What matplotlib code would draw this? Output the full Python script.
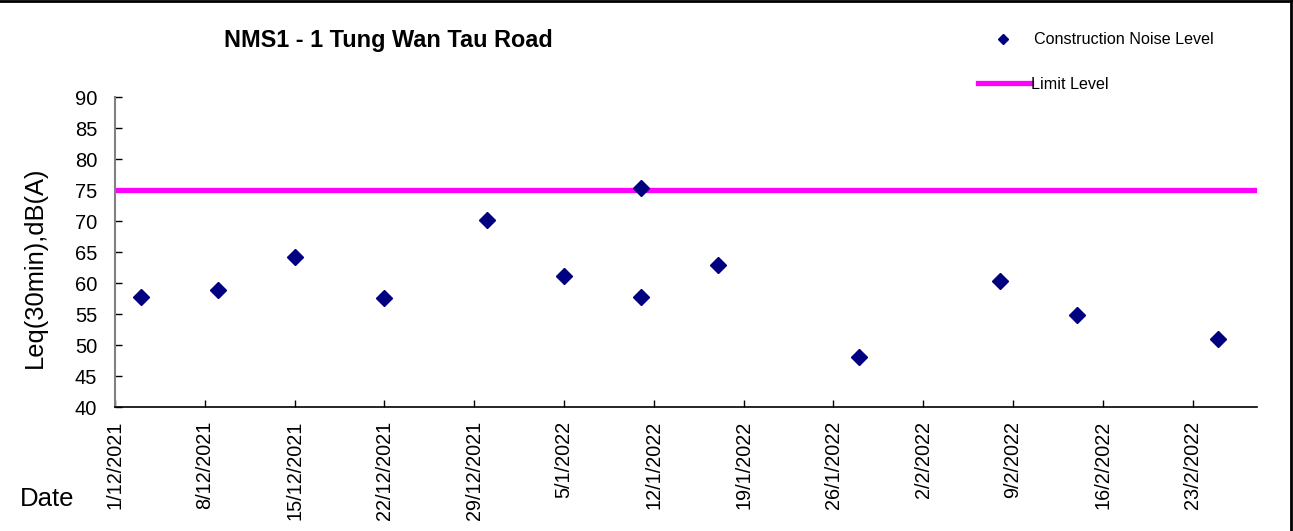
import numpy as np
import pandas as pd
import matplotlib.pyplot as plt
import matplotlib.dates as mdates
from matplotlib.lines import Line2D

plt.rcParams['font.family'] = ['Liberation Sans', 'DejaVu Sans']

# measured noise levels
dates = ['2021-12-03', '2021-12-09', '2021-12-15', '2021-12-22', '2021-12-30',
         '2022-01-05', '2022-01-11', '2022-01-11', '2022-01-17', '2022-01-28',
         '2022-02-08', '2022-02-14', '2022-02-25']
noise = [57.8, 58.9, 64.2, 57.6, 70.1, 61.1, 75.4, 57.7, 62.9, 48.0, 60.4, 54.8, 51.0]
limit_level = 75
x_start = '2021-12-01'
x_end = '2022-02-28'
tick_dates = pd.date_range('2021-12-01', '2022-02-23', freq='7D')
y_ticks = list(range(40, 95, 5))

dates = pd.to_datetime(dates)

fig = plt.figure(figsize=(12.93, 5.31), dpi=100)
ax = fig.add_axes([0.089, 0.2335, 0.883, 0.5835])

ax.axhline(limit_level, color='#FF00FF', lw=3.8, zorder=2)
ax.plot(dates, noise, 'D', color='#000080', ms=8, zorder=3)

ax.set_xlim(pd.Timestamp(x_start), pd.Timestamp(x_end))
ax.set_ylim(40, 90)
ax.set_yticks(y_ticks)
ax.set_xticks(tick_dates)
ax.xaxis.set_major_formatter(mdates.DateFormatter('%-d/%-m/%Y'))
for lab in ax.get_xticklabels():
    lab.set_rotation(90)

ax.tick_params(axis='y', direction='in', length=5, width=1, labelsize=14.5, pad=13)
ax.tick_params(axis='x', direction='in', length=5, width=1, labelsize=14.3, pad=10)
ax.spines['top'].set_visible(False)
ax.spines['right'].set_visible(False)
ax.spines['left'].set_color('#808080')
ax.spines['left'].set_linewidth(1.5)
ax.spines['bottom'].set_color('black')
ax.spines['bottom'].set_linewidth(1.2)

fig.text(0.027, 0.497, 'Leq(30min),dB(A)', rotation=90, ha='center', va='center', fontsize=18.4)
fig.text(0.015, 0.06, 'Date', ha='left', va='center', fontsize=18.5)
fig.text(0.300, 0.924, 'NMS1 - 1 Tung Wan Tau Road', ha='center', va='center',
         fontsize=16.9, fontweight='bold')

# legend drawn by hand to match the original placement
fig.add_artist(Line2D([0.7755], [0.926], marker='D', color='#000080', ms=5,
                      transform=fig.transFigure))
fig.text(0.7995, 0.926, 'Construction Noise Level', ha='left', va='center', fontsize=11.6)
fig.add_artist(Line2D([0.7565, 0.797], [0.843, 0.843], color='#FF00FF', lw=3.8,
                      transform=fig.transFigure))
fig.text(0.7975, 0.841, 'Limit Level', ha='left', va='center', fontsize=11.6)

# outer border (top and right visible in the original)
fig.add_artist(Line2D([0, 0.9985], [0.998, 0.998], color='black', lw=2, transform=fig.transFigure))
fig.add_artist(Line2D([0.9985, 0.9985], [0, 0.998], color='black', lw=2, transform=fig.transFigure))

plt.savefig('out.png', dpi=100)
